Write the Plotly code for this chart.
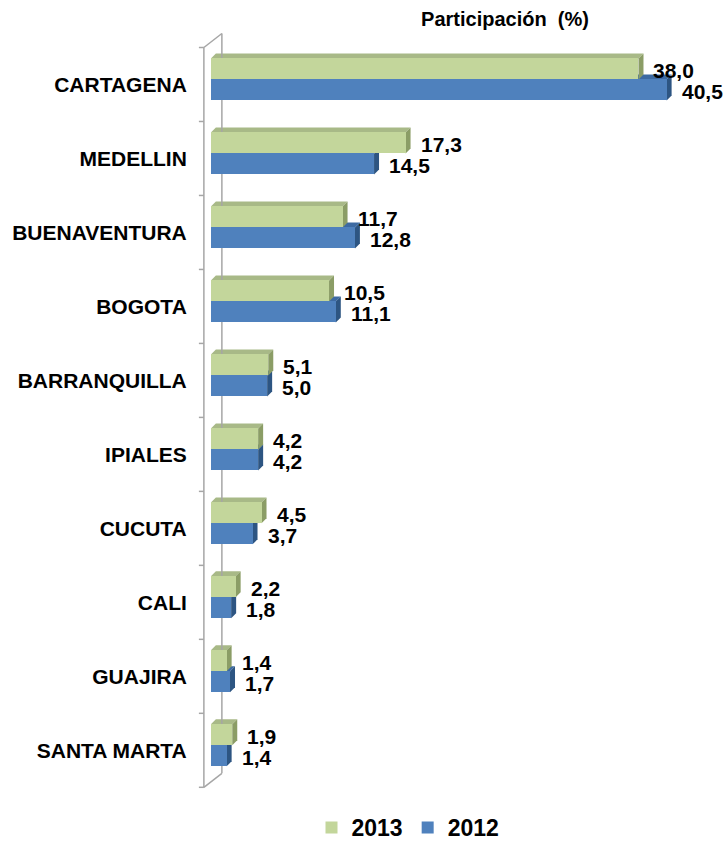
import plotly.graph_objects as go

# Participación por ciudad (%), 2013 vs 2012
cities = ["CARTAGENA", "MEDELLIN", "BUENAVENTURA", "BOGOTA", "BARRANQUILLA",
          "IPIALES", "CUCUTA", "CALI", "GUAJIRA", "SANTA MARTA"]
share_2013 = [38.0, 17.3, 11.7, 10.5, 5.1, 4.2, 4.5, 2.2, 1.4, 1.9]
share_2012 = [40.5, 14.5, 12.8, 11.1, 5.0, 4.2, 3.7, 1.8, 1.7, 1.4]

FONT = "Liberation Sans, Arial, sans-serif"
GREEN, GREEN_TOP, GREEN_SIDE = "#c3d69b", "#a8b987", "#8b9d66"
BLUE, BLUE_TOP, BLUE_SIDE = "#4f81bd", "#3d6aa2", "#2d5582"
WALL = "#a6a6a6"

# geometry in axis units
PX_X = 11.25          # pixels per percentage point
PX_Y = 74.0           # pixels per category band
BAR_H = 21 / PX_Y     # thickness of each bar
LIFT = 5 / PX_Y       # pair sits slightly above band centre
DX = 5 / PX_X         # 3D depth, horizontal
DY = 5 / PX_Y         # 3D depth, vertical

idx = list(range(len(cities)))
y13 = [i - LIFT - BAR_H / 2 for i in idx]
y12 = [i - LIFT + BAR_H / 2 for i in idx]

x_lo, left = -1.5, 194.125
right = 10
plot_w = 727 - left - right
x_hi = x_lo + plot_w / PX_X
y_top, y_bot = -0.75, 9.55
top = 47 - (-0.5 - y_top) * PX_Y
bottom = 849 - (787 + (y_bot - 9.5) * PX_Y)

fig = go.Figure()
fig.add_trace(go.Bar(name="2013", x=share_2013, y=y13, orientation="h",
                     width=BAR_H, marker=dict(color=GREEN, line=dict(width=0))))
fig.add_trace(go.Bar(name="2012", x=share_2012, y=y12, orientation="h",
                     width=BAR_H, marker=dict(color=BLUE, line=dict(width=0))))

shapes = []


def faces(vals, ys, top_col, side_col):
    for v, yc in zip(vals, ys):
        a, b = yc - BAR_H / 2, yc + BAR_H / 2
        shapes.append(dict(type="path", xref="x", yref="y", layer="below",
                           path=f"M 0,{a} L {DX},{a - DY} L {v + DX},{a - DY} L {v},{a} Z",
                           fillcolor=top_col, line=dict(width=0)))
        shapes.append(dict(type="path", xref="x", yref="y", layer="below",
                           path=f"M {v},{a} L {v + DX},{a - DY} L {v + DX},{b - DY} L {v},{b} Z",
                           fillcolor=side_col, line=dict(width=0)))


faces(share_2012, y12, BLUE_TOP, BLUE_SIDE)
faces(share_2013, y13, GREEN_TOP, GREEN_SIDE)

# 3D wall of the category axis
fx = (204 - 211) / PX_X
bx = (222 - 211) / PX_X
wd = 14 / PX_Y
wall = dict(color=WALL, width=1.5)
for x0, y0, x1, y1 in [(fx, -0.5, fx, 9.5), (bx, -0.5 - wd, bx, 9.5 - wd),
                       (fx, -0.5, bx, -0.5 - wd), (fx, 9.5, bx, 9.5 - wd)]:
    shapes.append(dict(type="line", xref="x", yref="y", layer="below",
                       x0=x0, y0=y0, x1=x1, y1=y1, line=wall))
for k in range(len(cities) + 1):
    shapes.append(dict(type="line", xref="x", yref="y", layer="below",
                       x0=fx - 5 / PX_X, x1=fx, y0=k - 0.5, y1=k - 0.5, line=wall))

annotations = []
for vals, ys in [(share_2013, y13), (share_2012, y12)]:
    for v, yc in zip(vals, ys):
        annotations.append(dict(x=v, y=yc, xref="x", yref="y", xanchor="left",
                                yanchor="middle", xshift=13, yshift=-2, showarrow=False,
                                text=f"{v:.1f}".replace(".", ","),
                                font=dict(family=FONT, size=21, color="black",
                                          weight="bold")))

fig.update_layout(
    width=727, height=849,
    margin=dict(l=left, r=right, t=top, b=bottom, pad=0, autoexpand=False),
    paper_bgcolor="white", plot_bgcolor="white",
    barmode="overlay", bargap=0,
    shapes=shapes, annotations=annotations,
    title=dict(text="Participación  (%)", x=505 / 727, xanchor="center",
               y=1 - 19 / 849, yanchor="middle", xref="container", yref="container",
               font=dict(family=FONT, size=20, color="black", weight="bold")),
    xaxis=dict(range=[x_lo, x_hi], visible=False, fixedrange=True, automargin=False),
    yaxis=dict(range=[y_bot, y_top], tickmode="array", tickvals=idx, ticktext=cities,
               showgrid=False, zeroline=False, showline=False, automargin=False,
               ticks="outside", ticklen=2, tickcolor="rgba(0,0,0,0)",
               tickfont=dict(family=FONT, size=21, color="black", weight="bold")),
    legend=dict(orientation="h", x=408 / 727, xanchor="center", xref="container",
                y=0, yanchor="bottom", yref="container",
                font=dict(family=FONT, size=23, color="black", weight="bold"),
                itemwidth=30, tracegroupgap=0),
    showlegend=True,
)

fig.write_html("out.html")
